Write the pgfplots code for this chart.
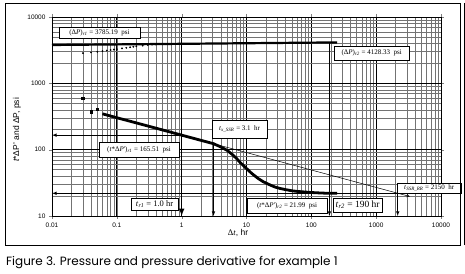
\documentclass[border=0pt]{standalone}
\usepackage{fontspec}
\setmainfont{Liberation Sans}
\newfontfamily\tnr{Liberation Serif}
\newfontfamily\capfont{Poppins}
\usepackage{pgfplots}
\pgfplotsset{compat=1.18}
\tikzset{box/.style={draw, fill=white, line width=0.7pt, inner sep=1pt,
    font=\tnr\fontsize{7}{8}\selectfont}}

\begin{document}
\begin{tikzpicture}
\begin{axis}[
  at={(0pt,0pt)}, anchor=south west,
  scale only axis, width=389pt, height=199pt,
  xmode=log, ymode=log,
  xmin=0.01, xmax=10000, ymin=10, ymax=10000,
  log ticks with fixed point,
  /pgf/number format/1000 sep={},
  /pgf/number format/assume math mode=true,
  ticklabel style={font=\fontsize{6.5}{7}\selectfont},
  grid=both,
  major grid style={black, line width=0.9pt},
  minor grid style={black!55, line width=0.4pt},
  tick align=outside, major tick length=3pt, minor tick length=0pt,
  axis line style={line width=0.9pt},
  clip=false,
]
% pressure: semilog line and early points
\addplot[black, line width=2.2pt] coordinates {(0.01,3785.19) (250,4138)};
\addplot[only marks, mark=*, mark size=0.7pt] coordinates {
  (0.03,2850) (0.04,2920) (0.05,2990) (0.06,3060) (0.07,3120) (0.08,3180)
  (0.09,3230) (0.1,3280) (0.12,3360) (0.14,3430) (0.16,3500) (0.18,3560)
  (0.2,3610) (0.25,3700) (0.3,3780) (0.35,3830) (0.4,3860) (0.5,3900)};
% derivative
\addplot[only marks, mark=square*, mark size=1.3pt] coordinates {
  (0.03,600) (0.04,370) (0.05,410)};
\addplot[black, line width=2.8pt] coordinates {
  (0.06,347) (0.1,303) (0.2,253) (0.5,199) (1,165.5) (2,138) (3.1,123)
  (4,110) (5,98) (6,85) (7,74) (8,64) (10,52) (12,44) (15,37) (18,33)
  (22,30) (27,27.5) (33,26) (40,25) (50,24) (60,23.5) (80,23) (100,22.6)
  (130,22.3) (160,22.1) (200,22) (250,22)};
% straight line on derivative
\addplot[black, line width=0.5pt, -stealth] coordinates {(0.06,347) (3300,19.7)};
% reference lines and arrows
\addplot[black, line width=0.6pt, -latex] coordinates {(6000,21.99) (0.01,21.99)};
\addplot[black, line width=0.6pt, -latex] coordinates {(1,165.51) (0.01,165.51)};
\addplot[black, line width=1.5pt, -latex] coordinates {(1,3945) (1,10)};
\addplot[black, line width=0.6pt, -latex] coordinates {(3.1,123) (3.1,10)};
\addplot[black, line width=0.6pt, -latex] coordinates {(190,4128) (190,10)};
\addplot[black, line width=0.6pt, -latex] coordinates {(2150,21.99) (2150,10)};
% labels
\node[box, minimum width=81pt, minimum height=11pt] at (axis cs:0.054,5750)
  {(Δ\textit{P})\textsubscript{\textit{r1}} = 3785.19\ \ psi};
\node[box, minimum width=75pt, minimum height=14pt] at (axis cs:853,2876)
  {(Δ\textit{P})\textsubscript{\textit{r2}} = 4128.33\ \ psi};
\node[box, minimum width=55pt, minimum height=18pt] at (axis cs:7.83,205)
  {\textit{t}\textsubscript{\textit{x\_SSR}} = 3.1\ \ hr};
\node[box, minimum width=80pt, minimum height=15pt] at (axis cs:0.22,101)
  {(\textit{t}*Δ\textit{P}')\textsubscript{\textit{r1}} = 165.51\ \ psi};
\node[box, minimum width=47pt, minimum height=12pt, font=\tnr\fontsize{8.5}{9}\selectfont] at (axis cs:0.382,15.2)
  {\textit{t}\textsubscript{\textit{r1}} = 1.0 hr};
\node[box, minimum width=80pt, minimum height=15pt] at (axis cs:42.3,14.4)
  {(\textit{t}*Δ\textit{P}')\textsubscript{\textit{r2}} = 21.99\ \ psi};
\node[box, minimum width=49pt, minimum height=14pt, font=\tnr\fontsize{9.5}{10}\selectfont] at (axis cs:518,14.7)
  {\textit{t}\textsubscript{\textit{r2}} = 190 hr};
\node[box, minimum width=64pt, minimum height=10pt] at (axis cs:6580,26.4)
  {\textit{t}\textsubscript{\textit{SSR\_RR}} = 2150\ \ hr};
\end{axis}
% axis titles
\node[font=\fontsize{8.5}{9}\selectfont] at (186pt,-17pt) {{\tnr Δ\textit{t}}, hr};
\node[font=\fontsize{8.5}{9}\selectfont, rotate=90] at (-35pt,86pt) {\textit{t}*ΔP' and ΔP, psi};
% frame and caption
\draw[line width=0.8pt] (-47pt,-29pt) rectangle (408pt,213pt);
\draw[line width=0.8pt] (412pt,-29pt) -- (412pt,213pt);
\node[anchor=base west, inner sep=0pt, font=\capfont\fontsize{12}{14}\selectfont]
  at (-46pt,-49pt) {Figure 3. Pressure and pressure derivative for example 1};
\pgfresetboundingbox
\path[use as bounding box] (-52pt,-57pt) rectangle (413pt,216pt);
\end{tikzpicture}
\end{document}
